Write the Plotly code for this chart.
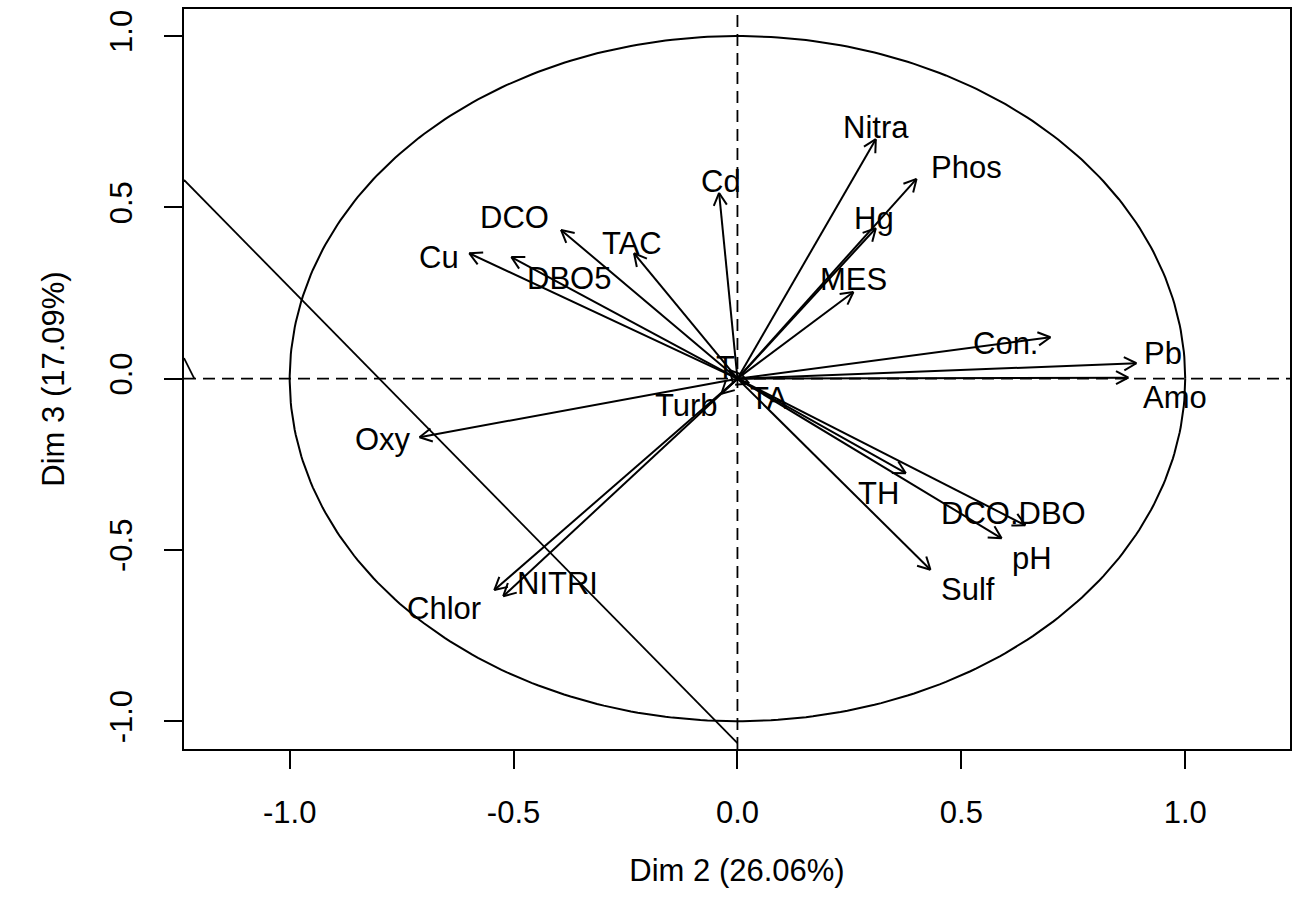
import numpy as np
import plotly.graph_objects as go

# Variable coordinates on the factor plane (Dim 2 x Dim 3)
variables = ["Pb", "Amo", "Con.", "Nitra", "Phos", "Hg", "MES", "Cd", "DCO", "TAC",
             "Cu", "DBO5", "T", "Turb", "TA", "TH", "DCO.DBO", "pH", "Sulf", "Oxy",
             "NITRI", "Chlor"]
dim2 = [0.891, 0.873, 0.699, 0.309, 0.400, 0.309, 0.259, -0.041, -0.394, -0.231,
        -0.599, -0.505, -0.017, -0.036, 0.026, 0.376, 0.643, 0.590, 0.431, -0.710,
        -0.523, -0.543]
dim3 = [0.045, 0.003, 0.121, 0.699, 0.583, 0.439, 0.253, 0.542, 0.434, 0.366,
        0.366, 0.355, 0.025, -0.044, -0.014, -0.276, -0.428, -0.466, -0.558, -0.171,
        -0.635, -0.617]

# Extra straight segments drawn on the map
seg_long_x = [-1.236, 0.0]
seg_long_y = [0.580, -1.064]
seg_short_x = [-1.236, -1.213]
seg_short_y = [0.060, 0.0]

x_ticks = [-1.0, -0.5, 0.0, 0.5, 1.0]
y_ticks = [-1.0, -0.5, 0.0, 0.5, 1.0]
x_title = "Dim 2 (26.06%)"
y_title = "Dim 3 (17.09%)"

# Label placement (pixel offsets from the arrow tip: right, up)
label_shift = {
    "Pb": (27, 10), "Amo": (47, -20), "Con.": (-45, -6), "Nitra": (0, 12),
    "Phos": (50, 11), "Hg": (-2, 10), "MES": (0, 12), "Cd": (2, 11),
    "DCO": (-47, 12), "TAC": (-2, 10), "Cu": (-30, -4), "DBO5": (58, -21),
    "T": (-4, 3), "Turb": (-35, -12), "TA": (20, -15), "TH": (-27, -20),
    "DCO.DBO": (-12, 12), "pH": (30, -20), "Sulf": (38, -20), "Oxy": (-37, -2),
    "NITRI": (54, 13), "Chlor": (-50, -18),
}

W, H = 1293, 898
M = dict(l=184, r=1, t=9, b=149)
XR = [-1.236, 1.234]
YR = [-1.081, 1.079]
px_x = (W - M["l"] - M["r"]) / (XR[1] - XR[0])
px_y = (H - M["t"] - M["b"]) / (YR[1] - YR[0])

FONT = "Liberation Sans, Arial, sans-serif"
FS = 31

fig = go.Figure()

# Correlation circle
th = np.linspace(0, 2 * np.pi, 400)
fig.add_trace(go.Scatter(x=np.cos(th), y=np.sin(th), mode="lines",
                         line=dict(color="black", width=2),
                         hoverinfo="skip", showlegend=False))

# Reference axes through the origin
fig.add_trace(go.Scatter(x=XR, y=[0, 0], mode="lines",
                         line=dict(color="black", width=1.8, dash="12px,7px"),
                         hoverinfo="skip", showlegend=False))
fig.add_trace(go.Scatter(x=[0, 0], y=YR, mode="lines",
                         line=dict(color="black", width=1.8, dash="12px,7px"),
                         hoverinfo="skip", showlegend=False))

# Extra segments
for sx, sy in [(seg_long_x, seg_long_y), (seg_short_x, seg_short_y)]:
    fig.add_trace(go.Scatter(x=sx, y=sy, mode="lines",
                             line=dict(color="black", width=1.8),
                             hoverinfo="skip", showlegend=False))

# Arrows: shafts plus open heads (built in pixel space so heads keep their shape)
head_len = 14.0
head_ang = np.deg2rad(28)
ax, ay = [], []
for x, y in zip(dim2, dim3):
    ax += [0, x, None]
    ay += [0, y, None]
    dx, dy = x * px_x, y * px_y
    if np.hypot(dx, dy) == 0:
        continue
    ang = np.arctan2(dy, dx)
    for s in (1, -1):
        a = ang + np.pi + s * head_ang
        ax += [x, x + head_len * np.cos(a) / px_x, None]
        ay += [y, y + head_len * np.sin(a) / px_y, None]
fig.add_trace(go.Scatter(x=ax, y=ay, mode="lines",
                         line=dict(color="black", width=2),
                         hoverinfo="skip", showlegend=False))

# Variable labels
for name, x, y in zip(variables, dim2, dim3):
    sx, sy = label_shift[name]
    fig.add_annotation(x=x, y=y, text=name, showarrow=False,
                       xshift=sx, yshift=sy, xanchor="center", yanchor="middle",
                       font=dict(family=FONT, size=FS, color="black"))

axis_common = dict(showline=True, linecolor="black", linewidth=1.8, mirror=True,
                   ticks="outside", ticklen=18, tickwidth=1.8, tickcolor="black",
                   showgrid=False, zeroline=False,
                   tickfont=dict(family=FONT, size=FS, color="black"))

fig.update_xaxes(range=XR, tickvals=x_ticks,
                 ticktext=[f"{v:.1f}" for v in x_ticks],
                 ticklabelstandoff=17,
                 title=dict(text=x_title, font=dict(family=FONT, size=FS, color="black"),
                            standoff=30),
                 **axis_common)
fig.update_yaxes(range=YR, tickvals=y_ticks,
                 ticktext=[f"{v:.1f}" for v in y_ticks],
                 tickangle=-90, ticklabelstandoff=20,
                 title=dict(text=y_title, font=dict(family=FONT, size=FS, color="black"),
                            standoff=30),
                 **axis_common)

fig.update_layout(width=W, height=H, autosize=False, margin=M,
                  plot_bgcolor="white", paper_bgcolor="white",
                  showlegend=False)

fig.write_html("out.html")
